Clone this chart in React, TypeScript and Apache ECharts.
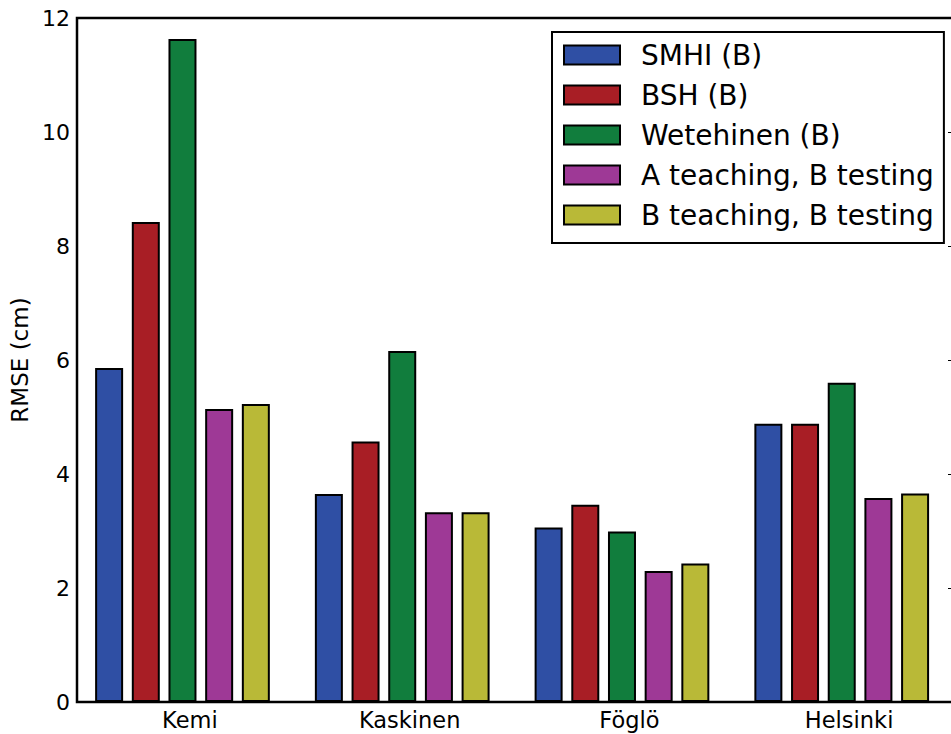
import React, { useEffect, useRef } from "react";
import * as echarts from "echarts";

// Tide gauge stations and RMSE per forecast source
const stations = ["Kemi", "Kaskinen", "Föglö", "Helsinki"];
const seriesNames = [
  "SMHI (B)",
  "BSH (B)",
  "Wetehinen (B)",
  "A teaching, B testing",
  "B teaching, B testing",
];
const smhi = [5.86, 3.65, 3.06, 4.88];
const bsh = [8.42, 4.57, 3.46, 4.88];
const wetehinen = [11.63, 6.16, 2.99, 5.6];
const aTeachBTest = [5.14, 3.33, 2.3, 3.58];
const bTeachBTest = [5.23, 3.33, 2.43, 3.66];
const yTicks = [0, 2, 4, 6, 8, 10, 12];

const colors = ["#2f4fa4", "#a81e25", "#117d3d", "#9e3996", "#b9b937"];
const FONT = "DejaVu Sans";

export default function App() {
  const ref = useRef<HTMLDivElement>(null);

  useEffect(() => {
    if (!ref.current) return;
    const chart = echarts.init(ref.current, null, { renderer: "svg" });
    const values = [smhi, bsh, wetehinen, aTeachBTest, bTeachBTest];

    chart.setOption({
      animation: false,
      backgroundColor: "#ffffff",
      grid: {
        left: 77,
        width: 879,
        top: 18,
        bottom: 32,
        outerBoundsMode: "none",
        show: true,
        borderColor: "#000",
        borderWidth: 2.5,
        backgroundColor: "transparent",
      },
      legend: {
        orient: "vertical",
        left: 552,
        top: 32,
        padding: [9, 10, 14, 11],
        icon: "rect",
        itemWidth: 56,
        itemHeight: 19,
        itemGap: 12,
        backgroundColor: "#fff",
        borderColor: "#000",
        borderWidth: 2,
        data: seriesNames,
        textStyle: {
          fontFamily: FONT,
          fontSize: 28,
          color: "#000",
          lineHeight: 28,
          padding: [0, 0, 0, 16],
        },
      },
      xAxis: [
        {
          // station names along the bottom
          type: "category",
          data: stations,
          axisLine: { show: false },
          axisTick: { show: false },
          axisLabel: {
            fontFamily: FONT,
            fontSize: 22.5,
            color: "#000",
            margin: 6,
            formatter: (v: string) => `{s|${v}}`,
            rich: {
              s: {
                fontFamily: FONT,
                fontSize: 22.5,
                color: "#000",
                padding: [0, 0, 0, 6],
              },
            },
          },
        },
        {
          // station index scale that places the bar groups
          type: "value",
          min: -0.48,
          max: 3.52,
          show: false,
        },
      ],
      yAxis: [
        {
          type: "value",
          min: yTicks[0],
          max: yTicks[yTicks.length - 1],
          interval: 2,
          name: "RMSE (cm)",
          nameLocation: "middle",
          nameGap: 37,
          nameTextStyle: { fontFamily: FONT, fontSize: 23, color: "#000" },
          axisLine: { show: false },
          axisTick: {
            show: true,
            inside: true,
            length: 8,
            lineStyle: { color: "#000", width: 1 },
          },
          splitLine: { show: false },
          axisLabel: {
            fontFamily: FONT,
            fontSize: 22,
            color: "#000",
            margin: 7,
          },
        },
        {
          type: "value",
          position: "right",
          min: yTicks[0],
          max: yTicks[yTicks.length - 1],
          interval: 2,
          axisLine: { show: false },
          axisTick: {
            show: true,
            inside: true,
            length: 8,
            lineStyle: { color: "#000", width: 1 },
          },
          axisLabel: { show: false },
          splitLine: { show: false },
        },
      ],
      series: seriesNames.map((name, i) => ({
        name,
        type: "bar",
        xAxisIndex: 1,
        yAxisIndex: 0,
        data: values[i].map((v, k) => [k, v]),
        barWidth: 28,
        barGap: "31%",
        itemStyle: {
          color: colors[i],
          borderColor: "#000",
          borderWidth: 2,
        },
      })),
    });

    return () => chart.dispose();
  }, []);

  return (
    <div
      ref={ref}
      style={{ position: "absolute", left: 0, top: 0, width: 951, height: 734 }}
    />
  );
}
